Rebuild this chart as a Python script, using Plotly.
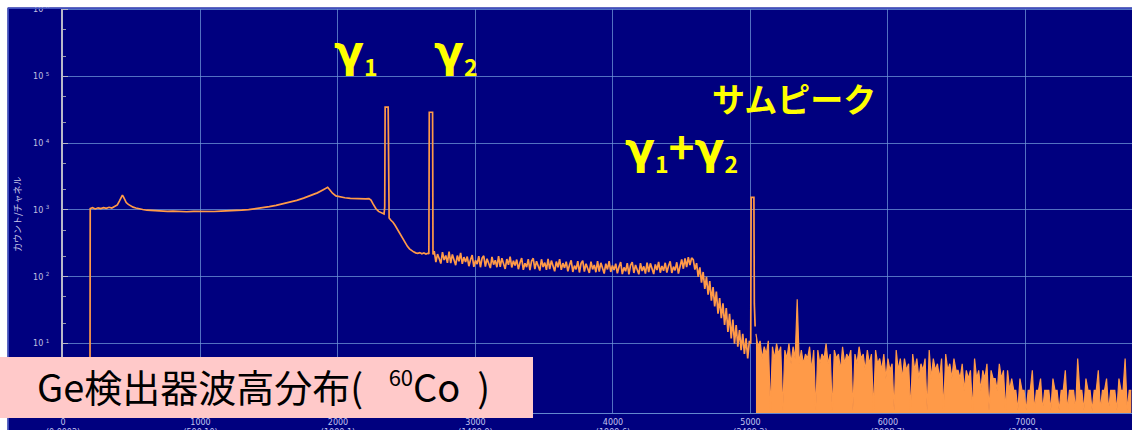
import plotly.graph_objects as go

# ---------------- data ----------------
# Low-energy part of the 60Co Ge spectrum (channel -> counts per channel), incl. gamma1 and gamma2 peaks
low_channels = [
    190, 196, 198, 215, 235, 255, 275, 295, 315, 335, 355, 375, 395, 410, 422, 432, 438, 448, 460, 475,
    490, 510, 530, 555, 580, 610, 640, 680, 720, 760, 800, 850, 900, 950, 1000, 1050, 1100, 1150, 1200, 1250,
    1300, 1350, 1400, 1450, 1500, 1550, 1600, 1650, 1700, 1750, 1800, 1850, 1890, 1915, 1925, 1940, 1960, 1985,
    2015, 2050, 2090, 2130, 2170, 2200, 2225, 2240, 2255, 2275, 2295, 2315, 2335,
    2340, 2343, 2365, 2368, 2372, 2385, 2400, 2415, 2430, 2445, 2460, 2475, 2490, 2505, 2520, 2535, 2550,
    2565, 2580, 2595, 2610, 2625, 2640, 2655, 2661, 2664, 2688, 2691,
]
low_counts = [
    1, 1, 1050, 1080, 1035, 1075, 1045, 1080, 1055, 1095, 1065, 1115, 1190, 1350, 1530, 1660, 1590, 1420, 1290, 1210,
    1150, 1100, 1070, 1035, 1015, 990, 980, 965, 955, 950, 958, 944, 940, 952, 943, 956, 948, 962, 966, 978,
    992, 1012, 1042, 1078, 1120, 1172, 1232, 1300, 1390, 1500, 1630, 1800, 1990, 2150, 2180, 2000, 1780, 1620,
    1555, 1520, 1490, 1470, 1455, 1460, 1475, 1400, 1230, 1050, 950, 900, 870,
    1100, 34400, 34400, 2500, 760, 700, 655, 590, 520, 455, 400, 350, 315, 285, 262, 245, 236,
    228, 224, 230, 221, 227, 219, 225, 220, 28900, 28900, 215,
]

# Compton continuum of the sum line and its edge: one value every flat_step channels from flat_start
flat_start = 2700
flat_step = 12
flat_counts = [
    242, 166, 218, 188, 158, 234, 178, 208, 162, 238,
    160, 216, 180, 149, 208, 171, 227, 156, 197, 167,
    201, 144, 180, 211, 141, 176, 155, 204, 139, 190,
    206, 142, 186, 161, 135, 199, 152, 177, 139, 203,
    141, 190, 159, 131, 184, 151, 200, 138, 174, 148,
    181, 130, 162, 191, 127, 159, 140, 184, 126, 172,
    189, 130, 171, 147, 124, 183, 140, 163, 127, 186,
    130, 175, 146, 121, 169, 139, 184, 127, 160, 136,
    168, 121, 150, 176, 118, 147, 129, 171, 116, 159,
    174, 120, 157, 136, 114, 169, 129, 150, 117, 172,
    120, 162, 136, 112, 157, 129, 171, 118, 148, 126,
    157, 113, 141, 166, 110, 138, 121, 160, 109, 149,
    166, 114, 150, 129, 109, 160, 122, 143, 112, 163,
    118, 159, 133, 110, 153, 126, 167, 115, 145, 123,
    162, 116, 145, 170, 114, 142, 125, 165, 112, 153,
    182, 132, 188, 140, 196, 150, 192,
    180, 128, 160, 100, 138, 82, 118, 66, 100, 54,
    86, 44, 70, 36, 60, 28, 48, 24, 40, 19,
    34, 15, 28, 12, 23, 10, 19, 9, 16, 8,
    14, 7, 12, 6, 11,
]

# Sum peak (gamma1 + gamma2)
sum_channels = [5002, 5005, 5025, 5028, 5034]
sum_counts = [10, 1545, 1545, 40, 18]

# High-channel tail: one value every tail_step channels from tail_start
tail_start = 5040
tail_step = 15
tail_counts = [
    14, 9, 11, 6, 9, 7, 11, 1, 9, 6, 10, 7, 9, 1, 8, 6, 10, 5, 9, 6,
    46, 5,
    8, 5, 7, 6, 9, 4, 8, 1, 8, 5, 7, 6, 10, 5, 7, 1, 8, 6, 7, 4, 9, 5, 7, 6, 8, 1, 7, 5, 9, 6, 7, 4, 8, 5, 7, 1, 8, 5,
    6, 4, 7, 3, 6, 4, 5, 1, 8, 4, 6, 3, 6, 4, 5, 1, 7, 4, 6, 3, 5, 4, 6, 1, 8, 3, 6, 4, 5, 3, 6, 1, 7, 4, 5, 3, 6, 4,
    4, 3, 5, 2, 4, 3, 4, 1, 6, 3, 4, 2, 4, 3, 5, 1, 4, 3, 3, 2, 5, 3, 4, 1, 4, 2, 3, 2,
    2, 1, 3, 2, 2, 1, 2, 2, 4, 1, 2, 2, 3, 1, 2, 2, 2, 1, 3, 2, 2, 1, 2, 2, 4, 1, 2, 2, 2, 1, 6, 2, 2, 1, 3, 2,
    2, 1, 2, 2, 4, 1, 2, 2, 3, 1, 2, 2, 2, 1, 3, 2, 2, 6, 1, 2, 2,
]

flat_channels = [flat_start + i * flat_step for i in range(len(flat_counts))]
tail_channels = [tail_start + i * tail_step for i in range(len(tail_counts))]

x_tick_vals = [0, 1000, 2000, 3000, 4000, 5000, 6000, 7000]
x_tick_energy = ["0.0002", "500.10", "1000.1", "1499.9", "1999.6", "2499.3", "2998.7", "3498.1"]
y_tick_exps = [1, 2, 3, 4, 5, 6]

y_title = "カウント/チャネル"
box_title = ('Ge検出器波高分布(&nbsp;&nbsp;&nbsp;<sup><span style="font-size:22px">60</span></sup>'
             'Co&nbsp;&nbsp;)')
GAM = '<span style="font-family:DejaVu Sans">γ</span>'
SUB = '<sub><span style="font-size:23px">{}</span></sub>'
peak_labels = [GAM + SUB.format(1), GAM + SUB.format(2), "サムピーク",
               GAM + SUB.format(1) + "+" + GAM + SUB.format(2)]

# ---------------- layout helpers ----------------
W, H = 1132, 430
ML, MR, MT, MB = 63, 0, 8, 17
PW, PH = W - ML - MR, H - MT - MB


def px_x(px):
    return (px - ML) / PW


def px_y(py):
    return 1 - (py - MT) / PH


NAVY = "#00007f"
ORANGE = "#ff9a48"
GRID = "rgba(110,150,215,0.75)"

fig = go.Figure()
fig.add_trace(go.Scatter(x=low_channels + flat_channels + sum_channels,
                         y=low_counts + flat_counts + sum_counts,
                         mode="lines", line=dict(color=ORANGE, width=1.7), hoverinfo="skip"))
fig.add_trace(go.Scatter(x=tail_channels, y=tail_counts, fill="tozeroy", fillcolor=ORANGE,
                         mode="lines", line=dict(color=ORANGE, width=1.2), hoverinfo="skip"))

YELLOW_FONT = dict(family="Noto Sans CJK JP", size=44, color="#ffff00")

fig.update_layout(
    width=W, height=H,
    margin=dict(l=ML, r=MR, t=MT, b=MB, autoexpand=False),
    paper_bgcolor=NAVY, plot_bgcolor=NAVY,
    showlegend=False,
    xaxis=dict(
        range=[0, 7775], tickvals=x_tick_vals, automargin=False,
        ticktext=[f"{v}<br>({e})" for v, e in zip(x_tick_vals, x_tick_energy)],
        showgrid=True, gridcolor=GRID, gridwidth=1, zeroline=False,
        showline=True, linecolor="rgba(110,150,215,0.9)", linewidth=1,
        ticks="", ticklabelstandoff=1,
        tickfont=dict(family="DejaVu Sans", size=8, color="#c4c4f0"),
    ),
    yaxis=dict(
        type="log", range=[-0.037, 6.02], automargin=False,
        tickvals=[10 ** e for e in y_tick_exps],
        ticktext=[f"10 <sup>{e}</sup>" for e in y_tick_exps],
        showgrid=True, gridcolor=GRID, gridwidth=1, zeroline=False,
        showline=True, linecolor="#b8b8c8", linewidth=2,
        ticks="inside", ticklen=5, tickcolor="#b8b8c8",
        minor=dict(ticks="inside", ticklen=3, tickcolor="#9898b0", showgrid=False),
        ticklabelstandoff=10,
        tickfont=dict(family="DejaVu Sans", size=8, color="#c0c0e0"),
    ),
    shapes=[
        # white strips around the screenshot
        dict(type="rect", xref="paper", yref="paper", x0=px_x(-5), x1=px_x(7.5), y0=px_y(440), y1=px_y(-5),
             fillcolor="white", line=dict(width=0), layer="above"),
        dict(type="rect", xref="paper", yref="paper", x0=px_x(-5), x1=px_x(1140), y0=px_y(7.5), y1=px_y(-5),
             fillcolor="white", line=dict(width=0), layer="above"),
        dict(type="line", xref="paper", yref="paper", x0=px_x(8.2), x1=px_x(8.2), y0=px_y(440), y1=px_y(8),
             line=dict(color="#4050c0", width=1.5), layer="above"),
        dict(type="line", xref="paper", yref="paper", x0=px_x(8), x1=px_x(1140), y0=px_y(8.2), y1=px_y(8.2),
             line=dict(color="#4050c0", width=1.5), layer="above"),
        # pink title box
        dict(type="rect", xref="paper", yref="paper", x0=px_x(0), x1=px_x(533), y0=px_y(418), y1=px_y(357),
             fillcolor="#ffc9c9", line=dict(width=0), layer="above"),
    ],
    annotations=[
        dict(text=y_title, xref="paper", yref="paper", x=px_x(18), y=px_y(215), textangle=-90,
             showarrow=False, xanchor="center", yanchor="middle",
             font=dict(family="Noto Sans CJK JP", size=9, color="#c8c8e8")),
        dict(text=box_title, xref="paper", yref="paper", x=px_x(35), y=px_y(385),
             showarrow=False, xanchor="left", yanchor="middle",
             font=dict(family="Noto Sans CJK JP", size=38, color="black")),
        dict(text="<b>" + peak_labels[0] + "</b>", xref="paper", yref="paper", x=px_x(356), y=px_y(54),
             showarrow=False, xanchor="center", yanchor="middle", font=YELLOW_FONT),
        dict(text="<b>" + peak_labels[1] + "</b>", xref="paper", yref="paper", x=px_x(456), y=px_y(54),
             showarrow=False, xanchor="center", yanchor="middle", font=YELLOW_FONT),
        dict(text="<b>" + peak_labels[2] + "</b>", xref="paper", yref="paper", x=px_x(794), y=px_y(98),
             showarrow=False, xanchor="center", yanchor="middle",
             font=dict(family="Noto Sans CJK JP", size=33, color="#ffff00")),
        dict(text="<b>" + peak_labels[3] + "</b>", xref="paper", yref="paper", x=px_x(681), y=px_y(146),
             showarrow=False, xanchor="center", yanchor="middle", font=YELLOW_FONT),
    ],
)

fig.write_html("out.html")
